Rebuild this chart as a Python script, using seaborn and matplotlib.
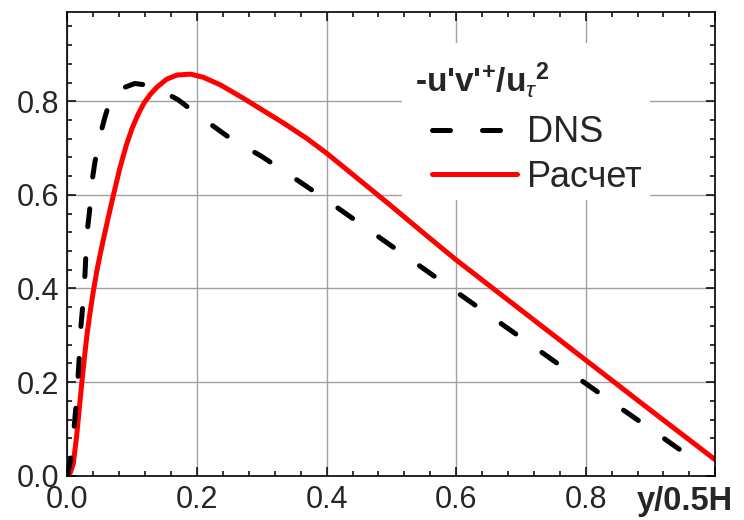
import pandas as pd
import seaborn as sns
import matplotlib.pyplot as plt
import matplotlib.ticker as ticker
from matplotlib.patches import Rectangle

# Datos
dns_x = [0.0, 0.006, 0.010, 0.013, 0.016, 0.018, 0.020, 0.023, 0.027, 0.030, 0.034, 0.037,
         0.042, 0.049, 0.058, 0.068, 0.085, 0.104, 0.120, 0.138, 0.171, 0.205, 0.25, 0.30,
         0.35, 0.40, 0.45, 0.50, 0.55, 0.60, 0.65, 0.70, 0.75, 0.80, 0.85, 0.90, 0.95, 0.98]
dns_y = [0.0, 0.044, 0.100, 0.147, 0.204, 0.250, 0.307, 0.354, 0.430, 0.517, 0.564, 0.620,
         0.667, 0.720, 0.767, 0.812, 0.828, 0.838, 0.835, 0.828, 0.803, 0.767, 0.722, 0.682,
         0.636, 0.589, 0.540, 0.491, 0.442, 0.393, 0.344, 0.295, 0.246, 0.197, 0.148, 0.100,
         0.051, 0.021]

calc_x = [0.0, 0.004, 0.009, 0.014, 0.018, 0.022, 0.026, 0.030, 0.035, 0.040, 0.045, 0.050,
          0.055, 0.063, 0.071, 0.081, 0.091, 0.100, 0.109, 0.118, 0.128, 0.138, 0.153, 0.169,
          0.190, 0.210, 0.236, 0.272, 0.300, 0.334, 0.370, 0.400, 0.470, 0.500, 0.550, 0.600,
          0.700, 0.800, 0.900, 1.000]
calc_y = [0.0, 0.005, 0.026, 0.083, 0.140, 0.197, 0.250, 0.300, 0.350, 0.395, 0.435, 0.470,
          0.502, 0.552, 0.600, 0.658, 0.707, 0.743, 0.772, 0.796, 0.815, 0.830, 0.847, 0.856,
          0.858, 0.851, 0.835, 0.806, 0.782, 0.753, 0.720, 0.689, 0.610, 0.576, 0.518, 0.461,
          0.354, 0.247, 0.140, 0.034]

etiqueta_dns = 'DNS'
etiqueta_calc = 'Расчет'
titulo_leyenda = r"-u'v'$^{\mathbf{+}}$/u$_{\tau}{}^{\mathbf{2}}$"
x_ticks = [0.0, 0.2, 0.4, 0.6, 0.8, 1.0]
x_tick_labels = ['0.0', '0.2', '0.4', '0.6', '0.8', '']
y_ticks = [0.0, 0.2, 0.4, 0.6, 0.8]

df = pd.concat([
    pd.DataFrame({'x': calc_x, 'y': calc_y, 'serie': etiqueta_calc}),
    pd.DataFrame({'x': dns_x, 'y': dns_y, 'serie': etiqueta_dns}),
], ignore_index=True)

sns.set_style('ticks')
plt.rcParams['font.family'] = ['Liberation Sans', 'DejaVu Sans']
plt.rcParams['mathtext.fontset'] = 'custom'
plt.rcParams['mathtext.rm'] = 'Liberation Sans:bold'
plt.rcParams['mathtext.bf'] = 'Liberation Sans:bold'
plt.rcParams['mathtext.it'] = 'Liberation Sans:italic'

fig = plt.figure(figsize=(7.44, 5.2), dpi=100)
ax = fig.add_axes([0.0907, 0.0852, 0.8707, 0.8911])

sns.lineplot(data=df, x='x', y='y', hue='serie', style='serie',
             hue_order=[etiqueta_calc, etiqueta_dns],
             palette={etiqueta_calc: '#ff0000', etiqueta_dns: 'black'},
             dashes={etiqueta_calc: '', etiqueta_dns: (3.6, 6.4)},
             estimator=None, sort=False, linewidth=3.6, legend=False, ax=ax)

for linea in ax.get_lines():
    linea.set_dash_capstyle('round')
    linea.set_solid_capstyle('round')
    linea.set_solid_joinstyle('round')

ax.set_xlim(0, 1.0)
ax.set_ylim(0, 0.99)
ax.set_xticks(x_ticks)
ax.set_xticklabels(x_tick_labels)
ax.set_yticks(y_ticks)
ax.xaxis.set_minor_locator(ticker.MultipleLocator(0.04))
ax.yaxis.set_minor_locator(ticker.MultipleLocator(0.04))
ax.yaxis.set_major_formatter(ticker.FormatStrFormatter('%.1f'))
ax.tick_params(which='both', direction='in', top=True, right=True, width=1.1, color='black')
ax.tick_params(which='major', length=6.5, labelsize=22)
ax.tick_params(axis='x', which='major', pad=7)
ax.tick_params(axis='y', which='major', pad=6)
ax.tick_params(which='minor', length=3.6)
ax.grid(True, which='major', color='#a0a0a0', linewidth=1.0)
ax.set_axisbelow(True)
for s in ax.spines.values():
    s.set_linewidth(1.2)
    s.set_color('black')

ax.set_xlabel('y/0.5H', fontsize=23.5, fontweight='bold', va='top')
ax.xaxis.set_label_coords(0.953, -0.022)
ax.set_ylabel('')

# Fondo blanco de la leyenda (tapa la cuadrícula)
ax.add_patch(Rectangle((0.516, 0.595), 0.383, 0.339, transform=ax.transAxes,
                       facecolor='white', edgecolor='none', zorder=1.5))

ax.text(0.536, 0.828, titulo_leyenda, transform=ax.transAxes, fontsize=24,
        fontweight='bold', ha='left', va='baseline', zorder=5)

lineas = ax.get_lines()
handles = [lineas[1], lineas[0]]
leg = ax.legend(handles, [etiqueta_dns, etiqueta_calc],
                loc='upper left', bbox_to_anchor=(0.563, 0.778), borderaxespad=0,
                fontsize=26, frameon=False, handlelength=2.35, handletextpad=0.28,
                labelspacing=0.27, borderpad=0)

fig.savefig('out.png', dpi=100)
